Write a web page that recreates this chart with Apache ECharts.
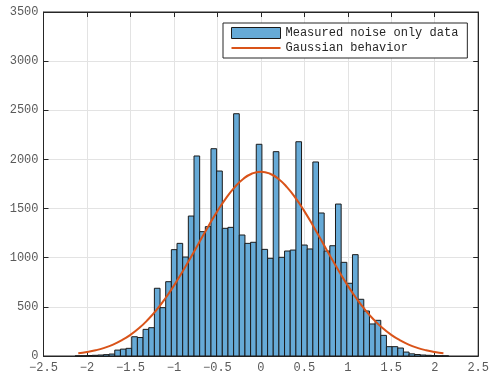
<!DOCTYPE html>
<html>
<head>
<meta charset="utf-8">
<script src="https://cdn.jsdelivr.net/npm/echarts@6/dist/echarts.min.js"></script>
<style>
  html, body { margin: 0; padding: 0; background: #fff; }
  #chart { width: 492px; height: 379px; }
</style>
</head>
<body>
<div id="chart"></div>
<script>
// Histogram bins: first left edge, common width, and counts per bin
const binStart = -2.136;
const binWidth = 0.0651;
const counts = [
  1, 2, 5, 7, 10, 14, 20, 60, 70, 78,
  196, 188, 271, 288, 689, 492, 756, 1082, 1146, 1007,
  1424, 2035, 1265, 1316, 2109, 1882, 1299, 1309, 2465, 1231,
  1146, 1157, 2154, 1085, 994, 2079, 1004, 1068, 1078, 2180,
  1129, 1089, 1974, 1455, 1068, 1122, 1546, 953, 740, 1031,
  577, 458, 326, 363, 210, 95, 95, 81, 40, 22,
  15, 10, 7, 4, 2, 1
];

// Gaussian reference curve, sampled points
const curveX = [
  -2.1, -2.0, -1.9, -1.8, -1.7, -1.6, -1.5, -1.4, -1.3, -1.2, -1.1,
  -1.0, -0.9, -0.8, -0.7, -0.6, -0.5, -0.4, -0.3, -0.2, -0.1, 0.0,
  0.1, 0.2, 0.3, 0.4, 0.5, 0.6, 0.7, 0.8, 0.9, 1.0,
  1.1, 1.2, 1.3, 1.4, 1.5, 1.6, 1.7, 1.8, 1.9, 2.0, 2.1
];
const curveY = [
  27, 40, 58, 83, 116, 160, 215, 284, 369, 469, 585,
  716, 860, 1013, 1170, 1326, 1474, 1607, 1719, 1804, 1857, 1875,
  1857, 1804, 1719, 1607, 1474, 1326, 1170, 1013, 860, 716,
  585, 469, 369, 284, 215, 160, 116, 83, 58, 40, 27
];

// Axis tick settings
const xTicks = { min: -2.5, max: 2.5, interval: 0.5 };
const yTicks = { min: 0, max: 3500, interval: 500 };

const seriesNames = ['Measured noise only data', 'Gaussian behavior'];

const FONT = 'Liberation Mono, DejaVu Sans Mono, monospace';
const AXIS_COLOR = '#262626';
const LABEL_COLOR = '#5a5a5a';
const BAR_FILL = '#66AAD7';
const BAR_EDGE = '#1a1a1a';
const CURVE_COLOR = '#D95319';

const barData = counts.map((c, i) => [binStart + i * binWidth, binStart + (i + 1) * binWidth, c]);
const lineData = curveX.map((x, i) => [x, curveY[i]]);

const fmt = v => String(v).replace('-', '\u2212');

const chart = echarts.init(document.getElementById('chart'), null, { renderer: 'canvas' });

const baseX = {
  type: 'value',
  min: xTicks.min, max: xTicks.max, interval: xTicks.interval,
  axisLine: { show: true, onZero: false, lineStyle: { color: AXIS_COLOR, width: 1 } },
  axisTick: { show: true, inside: true, length: 5, lineStyle: { color: AXIS_COLOR } },
  splitLine: { show: false },
};
const baseY = {
  type: 'value',
  min: yTicks.min, max: yTicks.max, interval: yTicks.interval,
  axisLine: { show: true, onZero: false, lineStyle: { color: AXIS_COLOR, width: 1 } },
  axisTick: { show: true, inside: true, length: 5, lineStyle: { color: AXIS_COLOR } },
  splitLine: { show: false },
};

chart.setOption({
  animation: false,
  backgroundColor: '#fff',
  grid: {
    left: 43.5, right: 12, top: 12, bottom: 23,
    show: true, borderColor: AXIS_COLOR, borderWidth: 1, backgroundColor: 'transparent'
  },
  legend: {
    left: 223, top: 23,
    orient: 'vertical',
    itemWidth: 49, itemHeight: 11, itemGap: 3,
    padding: [4, 9, 4, 8],
    backgroundColor: '#fff',
    borderColor: AXIS_COLOR, borderWidth: 1, borderRadius: 0,
    textStyle: { fontFamily: FONT, fontSize: 12, color: '#262626' },
    data: [
      { name: seriesNames[0], icon: 'rect',
        itemStyle: { color: BAR_FILL, borderColor: BAR_EDGE, borderWidth: 1 } },
      { name: seriesNames[1], icon: 'path://M0,0 L49,0 L49,2 L0,2 Z',
        itemStyle: { color: CURVE_COLOR, borderWidth: 0 } }
    ]
  },
  xAxis: [
    Object.assign({}, baseX, {
      position: 'bottom',
      splitLine: { show: true, lineStyle: { color: '#e3e3e3', width: 1 } },
      axisLabel: { fontFamily: FONT, fontSize: 12, color: LABEL_COLOR, margin: 6, formatter: fmt }
    }),
    Object.assign({}, baseX, { position: 'top', axisLabel: { show: false } })
  ],
  yAxis: [
    Object.assign({}, baseY, {
      position: 'left',
      splitLine: { show: true, lineStyle: { color: '#e3e3e3', width: 1 } },
      axisLabel: { fontFamily: FONT, fontSize: 12, color: LABEL_COLOR, margin: 5, formatter: v => String(v) }
    }),
    Object.assign({}, baseY, { position: 'right', axisLabel: { show: false } })
  ],
  series: [
    {
      name: seriesNames[0],
      type: 'custom',
      xAxisIndex: 0, yAxisIndex: 0,
      itemStyle: { color: BAR_FILL, borderColor: BAR_EDGE, borderWidth: 1 },
      encode: { x: [0, 1], y: 2 },
      data: barData,
      renderItem: function (params, api) {
        const p0 = api.coord([api.value(0), api.value(2)]);
        const p1 = api.coord([api.value(1), 0]);
        return {
          type: 'rect',
          shape: { x: p0[0], y: p0[1], width: p1[0] - p0[0], height: p1[1] - p0[1] },
          style: { fill: BAR_FILL, stroke: BAR_EDGE, lineWidth: 1 }
        };
      },
      z: 2
    },
    {
      name: seriesNames[1],
      type: 'line',
      xAxisIndex: 0, yAxisIndex: 0,
      data: lineData,
      smooth: true,
      symbol: 'none',
      lineStyle: { color: CURVE_COLOR, width: 2 },
      itemStyle: { color: CURVE_COLOR },
      z: 3
    }
  ]
});
</script>
</body>
</html>
